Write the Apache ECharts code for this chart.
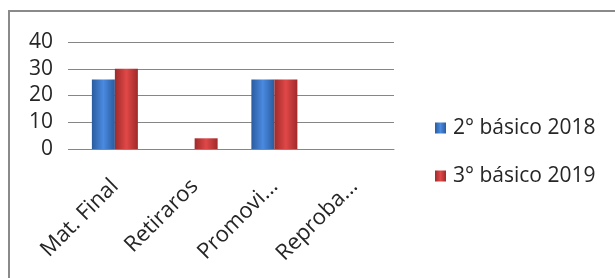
<!DOCTYPE html>
<html>
<head>
<meta charset="utf-8">
<script src="https://cdn.jsdelivr.net/npm/echarts@6/dist/echarts.min.js"></script>
<style>
html,body{margin:0;padding:0;background:#fff;}
#chart{width:615px;height:278px;}
</style>
</head>
<body>
<div id="chart"></div>
<script>
var categories = ['Mat. Final', 'Retiraros', 'Promovi...', 'Reproba...'];
var serie2018 = [26, 0, 26, 0];
var serie2019 = [30, 4, 26, 0];
var yTicks = [0, 10, 20, 30, 40];

function barColor(edge, mid){
	return new echarts.graphic.LinearGradient(0, 0, 1, 0, [
		{offset: 0, color: edge},
		{offset: 0.5, color: mid},
		{offset: 1, color: edge}
	]);
}

function drawChart(id){
	var font = '"Open Sans", sans-serif';
	var option = {
		animation: false,
		graphic: [{
			type: 'rect',
			shape: {x: 9, y: 11, width: 640, height: 300},
			style: {fill: 'none', stroke: '#8a8a8a', lineWidth: 2}
		}],
		legend: {
			orient: 'vertical',
			left: 430,
			top: 111,
			itemWidth: 11,
			itemHeight: 11,
			itemGap: 24,
			icon: 'rect',
			textStyle: {color: '#262626', fontSize: 21, lineHeight: 24, fontFamily: font, padding: [0, 0, 0, 2]},
			data: ['2° básico 2018', '3° básico 2019']
		},
		grid: {left: 75, right: 221, top: 42, bottom: 129},
		xAxis: {
			type: 'category',
			data: categories,
			axisLine: {lineStyle: {color: '#868686'}},
			axisTick: {length: 7, lineStyle: {color: '#868686'}},
			axisLabel: {rotate: 45, margin: 34, color: '#262626', fontSize: 22, fontFamily: font, interval: 0}
		},
		yAxis: {
			type: 'value',
			min: yTicks[0],
			max: yTicks[yTicks.length - 1],
			interval: 10,
			axisLine: {show: false},
			axisTick: {show: true, length: 7, lineStyle: {color: '#868686'}},
			splitLine: {lineStyle: {color: '#868686'}},
			axisLabel: {margin: 22, color: '#262626', fontSize: 21, fontFamily: font}
		},
		series: [{
			name: '2° básico 2018',
			type: 'bar',
			data: serie2018,
			barWidth: 23,
			barGap: '0%',
			color: '#3a74c4',
			itemStyle: {color: barColor('#2a5c9e', '#4a8ae0')}
		}, {
			name: '3° básico 2019',
			type: 'bar',
			data: serie2019,
			barWidth: 23,
			color: '#c83a3a',
			itemStyle: {color: barColor('#a02a2a', '#e04848')}
		}]
	};
	var myChart = echarts.init(document.getElementById(id));
	myChart.setOption(option);
}
drawChart('chart');
</script>
</body>
</html>
